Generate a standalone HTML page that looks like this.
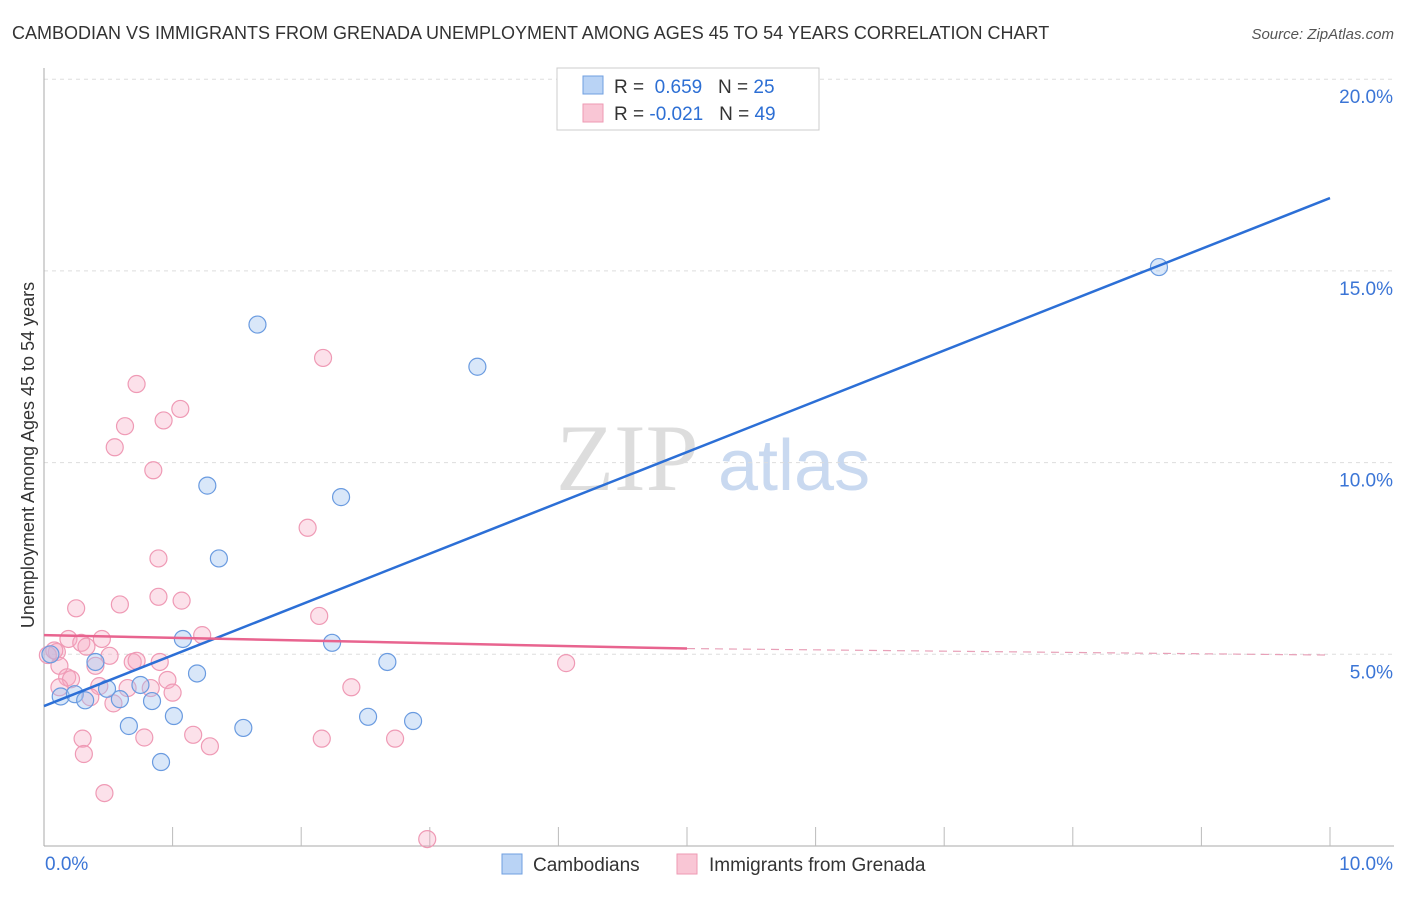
<!DOCTYPE html>
<html><head><meta charset="utf-8"><style>
body{margin:0;background:#fff;font-family:"Liberation Sans",sans-serif}
</style></head><body>
<svg id="c" width="1406" height="892" xmlns="http://www.w3.org/2000/svg">
<text x="12" y="39" font-size="18" fill="#333">CAMBODIAN VS IMMIGRANTS FROM GRENADA UNEMPLOYMENT AMONG AGES 45 TO 54 YEARS CORRELATION CHART</text>
<text x="1394" y="39" font-size="15" fill="#555" font-style="italic" text-anchor="end">Source: ZipAtlas.com</text>
<text x="556" y="490" font-size="95" fill="#ddd" font-family="Liberation Serif">ZIP</text>
<text x="718" y="490" font-size="72" fill="#c9d9f0">atlas</text>
<g id="grid"></g><g id="axes"></g><g id="marks"></g>
<text transform="translate(34,455) rotate(-90)" font-size="18" fill="#333" text-anchor="middle">Unemployment Among Ages 45 to 54 years</text>
<g>
<rect x="557" y="68" width="262" height="62" fill="#fff" stroke="#ccc"/>
<rect x="583" y="76" width="20" height="18" fill="#b9d3f5" stroke="#6f9fe0"/>
<rect x="583" y="104" width="20" height="18" fill="#f9c6d5" stroke="#ee9ab3"/>
<text x="614" y="93" font-size="19" fill="#333">R = <tspan fill="#2d6fd4">&#160;0.659</tspan>&#160;&#160;&#160;N = <tspan fill="#2d6fd4">25</tspan></text>
<text x="614" y="120" font-size="19" fill="#333">R = <tspan fill="#2d6fd4">-0.021</tspan>&#160;&#160;&#160;N = <tspan fill="#2d6fd4">49</tspan></text>
</g>
<g>
<rect x="502" y="854" width="20" height="20" fill="#b9d3f5" stroke="#6f9fe0"/>
<text x="533" y="871" font-size="19" fill="#333">Cambodians</text>
<rect x="677" y="854" width="20" height="20" fill="#f9c6d5" stroke="#ee9ab3"/>
<text x="709" y="871" font-size="19" fill="#333">Immigrants from Grenada</text>
</g>
</svg>
<script>
const yTicks=[5,10,15,20];
const yTickLabels=["5.0%","10.0%","15.0%","20.0%"];
const xTickLabels=["0.0%","10.0%"];
const blueX=[1.66,3.37,8.67,1.27,2.31,1.36,1.08,2.24,0.4,2.67,1.19,0.75,0.49,0.13,0.24,0.32,0.59,0.84,1.01,2.52,2.87,0.66,1.55,0.91,0.05];
const blueY=[13.6,12.5,15.1,9.4,9.1,7.5,5.4,5.3,4.8,4.8,4.5,4.2,4.1,3.9,3.96,3.8,3.83,3.78,3.39,3.37,3.26,3.13,3.08,2.19,5.0];
const pinkX=[0.72,2.17,1.06,0.63,0.93,0.55,0.85,2.05,0.89,0.89,1.07,0.25,0.59,2.14,1.23,0.19,0.29,0.45,0.33,0.51,0.1,0.03,0.69,0.72,0.12,4.06,0.18,0.21,0.43,0.65,0.83,0.96,2.39,0.12,0.36,0.54,0.3,0.78,1.16,1.29,2.16,2.73,0.31,0.47,2.98,0.08,0.4,0.9,1.0];
const pinkY=[12.05,12.73,11.4,10.95,11.1,10.4,9.8,8.3,7.5,6.5,6.4,6.2,6.3,6.0,5.5,5.4,5.3,5.4,5.2,4.96,5.06,4.98,4.8,4.83,4.7,4.77,4.4,4.35,4.17,4.12,4.12,4.33,4.14,4.14,3.88,3.72,2.8,2.83,2.9,2.6,2.8,2.8,2.4,1.38,0.18,5.1,4.7,4.8,4.0];
const blueLine=[0,3.65,10,16.9];
const pinkLine=[0,5.5,5.0,5.15,10,4.98];
const X=v=>44+v*128.6, Y=v=>846-v*38.34;
const ns="http://www.w3.org/2000/svg";
function mk(g,t,a){const e=document.createElementNS(ns,t);for(const k in a)e.setAttribute(k,a[k]);document.getElementById(g).appendChild(e);return e;}
yTicks.forEach((t,i)=>{
 const l=mk('grid','line',{x1:44,x2:1394,y1:Y(t),y2:Y(t),stroke:'#ddd','stroke-dasharray':'4,4'});
 
 
 const tx=mk('grid','text',{x:1393,y:Y(t)+24,'font-size':19,fill:'#3b75d6','text-anchor':'end'});tx.textContent=yTickLabels[i];
 
 
});
let a=mk('axes','line',{x1:44,x2:44,y1:68,y2:846,stroke:'#aaa'});


a=mk('axes','line',{x1:44,x2:1394,y1:846,y2:846,stroke:'#aaa'});


for(let i=1;i<=10;i++){const t=mk('axes','line',{x1:X(i),x2:X(i),y1:827,y2:846,stroke:'#bbb'});
 
 }
[[0,'start',45],[10,'end',1393]].forEach((d,i)=>{const t=mk('axes','text',{x:d[2],y:870,'font-size':19,fill:'#3b75d6','text-anchor':d[1]});t.textContent=xTickLabels[i];
 
 });
pinkX.forEach((x,i)=>{const c=mk('marks','circle',{cx:X(x),cy:Y(pinkY[i]),r:8.5,fill:'rgba(246,170,195,0.35)',stroke:'#ef9ab5','stroke-width':1.2});
 
 });
blueX.forEach((x,i)=>{const c=mk('marks','circle',{cx:X(x),cy:Y(blueY[i]),r:8.5,fill:'rgba(160,195,240,0.4)',stroke:'#6a9be0','stroke-width':1.2});
 
 });
let l=mk('marks','line',{x1:X(blueLine[0]),y1:Y(blueLine[1]),x2:X(blueLine[2]),y2:Y(blueLine[3]),stroke:'#2c6fd6','stroke-width':2.5});


l=mk('marks','line',{x1:X(pinkLine[0]),y1:Y(pinkLine[1]),x2:X(pinkLine[2]),y2:Y(pinkLine[3]),stroke:'#e8648f','stroke-width':2.5});


l=mk('marks','line',{x1:X(pinkLine[2]),y1:Y(pinkLine[3]),x2:X(pinkLine[4]),y2:Y(pinkLine[5]),stroke:'#e8a0b8','stroke-width':1.2,'stroke-dasharray':'8,6'});


</script>
</body></html>
